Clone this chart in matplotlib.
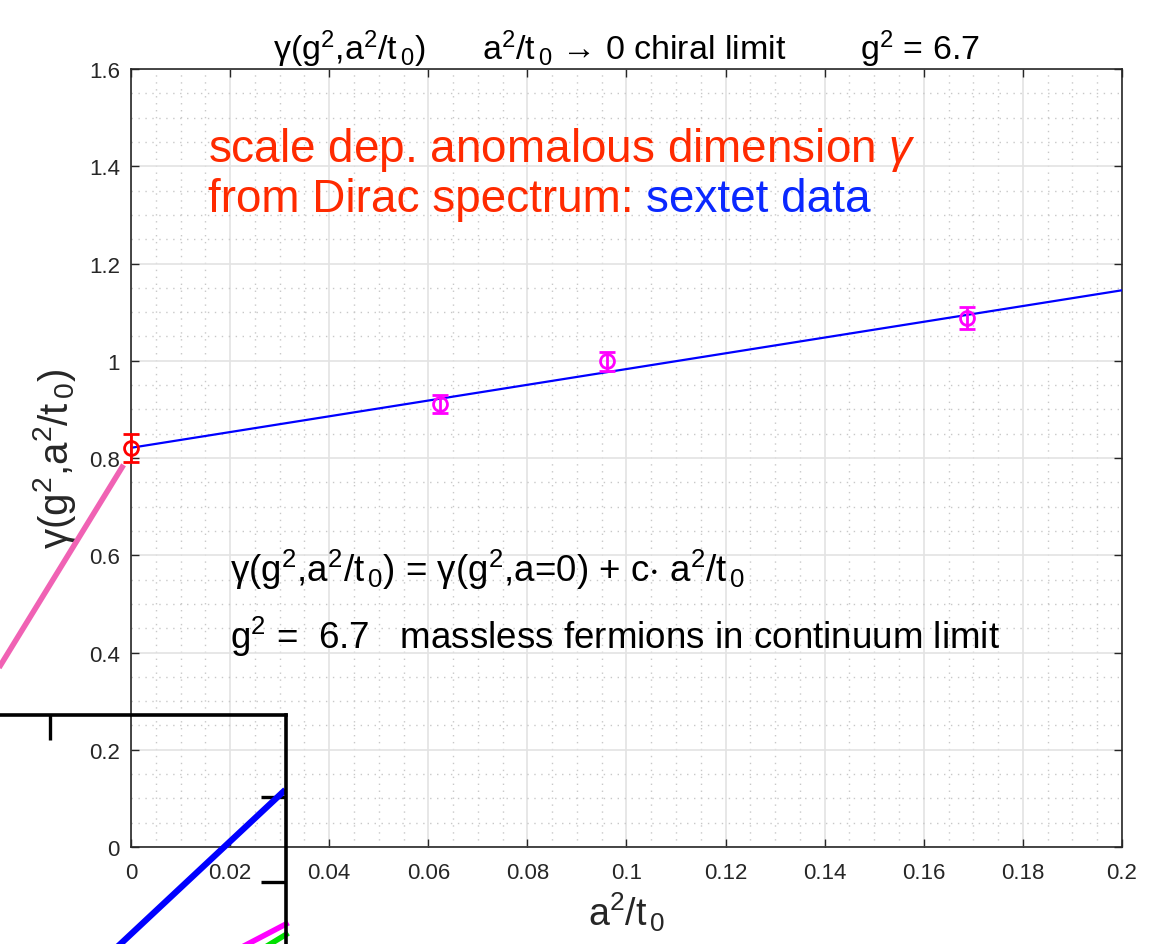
import numpy as np
import matplotlib
matplotlib.use("Agg")
import matplotlib.pyplot as plt
from matplotlib.ticker import MultipleLocator, FormatStrFormatter

plt.rcParams["font.family"] = ["Liberation Sans", "DejaVu Sans"]
plt.rcParams["mathtext.fontset"] = "custom"
plt.rcParams["mathtext.rm"] = "Liberation Sans"
plt.rcParams["mathtext.it"] = "Liberation Sans:italic"
plt.rcParams["mathtext.default"] = "regular"

# lattice points (finite a^2/t0) and the continuum-limit value
a2t0 = [0.0624, 0.096, 0.1687]
gamma = [0.911, 0.999, 1.088]
gamma_err = [0.018, 0.020, 0.022]
a2t0_cont = [0.0]
gamma_cont = [0.821]
gamma_cont_err = [0.029]

# linear fit gamma(a^2/t0) = gamma0 + c * a^2/t0
fit_x = [0.0, 0.2]
fit_y = [0.821, 1.145]

# pink guide line running off to the left of the frame
pink_x = [-0.0015, -0.03]
pink_y = [0.786, 0.313]

# lower-left panel peeking in (arbitrary unit coordinates)
panel_blue_x = [0.9925, 0.55]
panel_blue_y = [0.816, 0.42]
panel_mag_x = [1.0, 0.88]
panel_mag_y = [0.50, 0.44]
panel_green_x = [1.0, 0.94]
panel_green_y = [0.475, 0.44]
panel_xticks = [0.41]
panel_yticks = [0.6005, 0.804]

# MATLAB-style label pieces: subscripts sit a little apart from the letter
A2T0 = r"a$^2$/t$_{\,0}$"
GAM = r"$\gamma$(g$^2$,a$^2$/t$_{\,0}$)"

fig = plt.figure(figsize=(11.51, 9.45), dpi=100)
ax = fig.add_axes([0.1138, 0.1026, 0.861, 0.8233])

ax.plot(fit_x, fit_y, color="#0000ff", lw=1.6, zorder=3)
ax.errorbar(a2t0, gamma, yerr=gamma_err, fmt="o", color="#ff00ff", mfc="none",
            mec="#ff00ff", ms=10, mew=2, elinewidth=2, capsize=5.5, capthick=2, zorder=4)
ax.errorbar(a2t0_cont, gamma_cont, yerr=gamma_cont_err, fmt="o", color="#ff0000",
            mfc="none", mec="#ff0000", ms=10, mew=2, elinewidth=2, capsize=5.5,
            capthick=2, zorder=5, clip_on=False)
ax.plot(pink_x, pink_y, color="#f062b4", lw=4, clip_on=False, solid_capstyle="butt")

ax.set_xlim(0, 0.2)
ax.set_ylim(0, 1.6)
ax.xaxis.set_major_locator(MultipleLocator(0.02))
ax.xaxis.set_minor_locator(MultipleLocator(0.005))
ax.yaxis.set_major_locator(MultipleLocator(0.2))
ax.yaxis.set_minor_locator(MultipleLocator(0.05))
ax.xaxis.set_major_formatter(FormatStrFormatter("%g"))
ax.yaxis.set_major_formatter(FormatStrFormatter("%g"))
ax.grid(which="major", color="#e3e3e3", lw=1.2)
ax.grid(which="minor", color="#c8c8c8", lw=1.0, ls=(0, (1, 4)))
ax.set_axisbelow(True)
ax.tick_params(which="both", direction="in", top=True, right=True,
               labelsize=16, colors="#262626")
ax.tick_params(axis="x", pad=11)
ax.tick_params(axis="y", pad=8)
ax.tick_params(which="major", length=6, width=1)
ax.tick_params(which="minor", length=0)
for sp in ax.spines.values():
    sp.set_color("#262626")
    sp.set_linewidth(1.2)

ax.set_xlabel(A2T0, fontsize=27, color="#262626", labelpad=4)
ax.set_ylabel(GAM, fontsize=29, color="#262626", labelpad=8)
ax.set_title(GAM + "      " + A2T0 + " \u2192 0 chiral limit        g$^2$ = 6.7",
             fontsize=24.5, color="#000000", pad=6)

ax.text(0.078, 0.897, r"scale dep. anomalous dimension $\mathit{\gamma}$", transform=ax.transAxes,
        fontsize=33, color="#ff2a00", va="center", ha="left")
t2 = ax.text(0.078, 0.833, "from Dirac spectrum:", transform=ax.transAxes,
             fontsize=33, color="#ff2a00", va="center", ha="left")
ax.annotate("sextet data", xy=(1, 0), xycoords=t2, xytext=(9, 0),
            textcoords="offset points", fontsize=33, color="#0a28ff",
            va="bottom", ha="left")

ax.text(0.1, 0.357, GAM + r" = $\gamma$(g$^2$,a=0) + c$\cdot$ " + A2T0,
        transform=ax.transAxes, fontsize=26.5, color="#000000", va="center", ha="left")
ax.text(0.1, 0.272, r"g$^2$ =  6.7   massless fermions in continuum limit",
        transform=ax.transAxes, fontsize=26.5, color="#000000", va="center", ha="left")

# neighbouring panel in the lower-left corner
pan = fig.add_axes([-0.099, -0.2, 0.3475, 0.4423])
pan.patch.set_alpha(0)
pan.plot(panel_blue_x, panel_blue_y, color="#0000ff", lw=4.5, clip_on=False)
pan.plot(panel_mag_x, panel_mag_y, color="#ff00ff", lw=4, clip_on=False)
pan.plot(panel_green_x, panel_green_y, color="#00e000", lw=4, clip_on=False)
pan.set_xlim(0, 1)
pan.set_ylim(0, 1)
pan.set_xticks(panel_xticks)
pan.set_yticks(panel_yticks)
pan.tick_params(direction="in", length=18, width=2.4, color="black",
                top=True, bottom=False, right=True, left=False,
                labeltop=False, labelbottom=False, labelleft=False, labelright=False)
pan.spines["left"].set_visible(False)
pan.spines["bottom"].set_visible(False)
pan.spines["top"].set_linewidth(2.6)
pan.spines["right"].set_linewidth(2.6)
pan.spines["top"].set_color("black")
pan.spines["right"].set_color("black")

fig.savefig("out.png", dpi=100)
